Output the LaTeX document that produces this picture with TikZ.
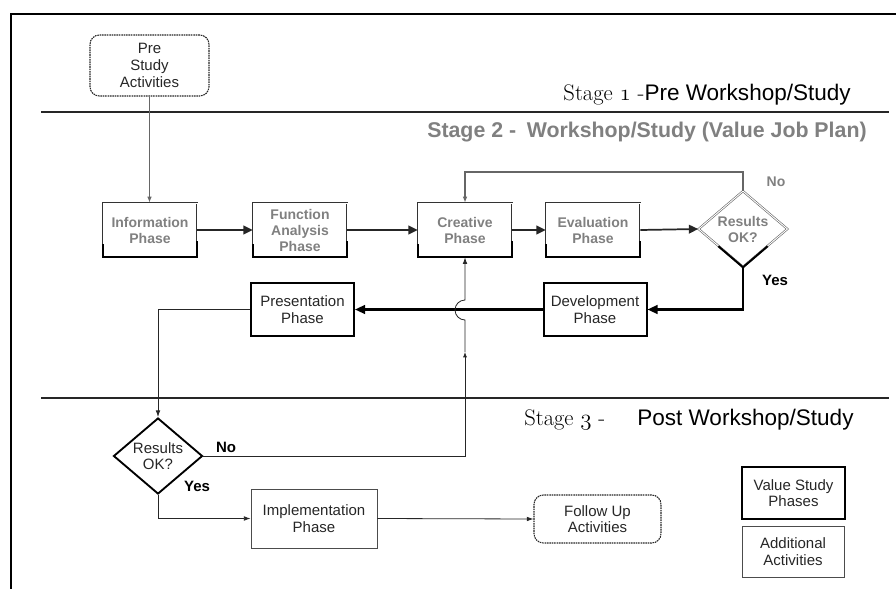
\documentclass[tikz,border=0pt]{standalone}
\usepackage{fontspec}
\setsansfont{Liberation Sans}
\usetikzlibrary{arrows.meta,shapes.geometric,calc}
\tikzset{
  base/.style={font=\sffamily\fontsize{11.25}{12.5}\selectfont, align=center, inner sep=1pt, text=black!85},
  vphase/.style={rectangle, draw=black!80, line width=0.45pt, double=white, double distance=0.7pt,
     minimum width=70.5pt, minimum height=40.5pt, align=center, inner sep=1pt, text=black!50,
     font=\sffamily\bfseries\fontsize{10.5}{12}\selectfont},
  vsbox/.style={base, rectangle, draw=black, line width=1.5pt, minimum width=77.25pt, minimum height=39.75pt},
  addbox/.style={base, rectangle, draw=black!70, line width=0.6pt},
  dotbox/.style={base, rectangle, rounded corners=7pt, draw=black!85, line width=0.8pt,
     dash pattern=on 1.2pt off 0.6pt},
  diaA/.style={diamond, aspect=1.17, minimum width=66.75pt, minimum height=57pt, inner sep=0pt,
     draw=black!60, line width=0.45pt, double=white, double distance=0.7pt, align=center, text=black!50,
     font=\sffamily\bfseries\fontsize{10.5}{12}\selectfont},
  diaB/.style={base, diamond, aspect=1.17, minimum width=66.75pt, minimum height=57pt, inner sep=0pt,
     draw=black, line width=1.4pt},
  stagelbl/.style={inner sep=0pt, font=\sffamily\fontsize{16.9}{18}\selectfont},
  stagegray/.style={inner sep=0pt, text=black!50, font=\sffamily\bfseries\fontsize{16}{18}\selectfont},
  lblb/.style={inner sep=0pt, font=\sffamily\bfseries\fontsize{11.25}{12}\selectfont},
  lblg/.style={inner sep=0pt, text=black!50, font=\sffamily\bfseries\fontsize{10.5}{12}\selectfont},
  toparrow/.style={draw=black!85, line width=1.3pt, -{Triangle[length=7pt,width=6.5pt]}},
  thickarrow/.style={draw=black, line width=1.6pt, -{Triangle[length=7.5pt,width=6.5pt]}},
  grayarrow/.style={draw=black!60, line width=0.9pt, -{Latex[length=4.5pt,width=3.5pt]}},
  thinarrow/.style={draw=black!85, line width=0.6pt, -{Latex[length=5pt,width=3.5pt]}},
}
\begin{document}
\begin{tikzpicture}[x=0.75pt,y=-0.75pt]
\useasboundingbox (0,0) rectangle (896,589);
% frame and stage separators
\draw[line width=1pt] (11,589) -- (11,14) -- (896,14);
\draw[line width=0.8pt, black!85] (41,112) -- (889,112);
\draw[line width=0.8pt, black!85] (41,398) -- (889,398);

% stage labels
\node[stagelbl, anchor=base east] (s1) at (851,100) {{\rmfamily Stage \ensuremath{\mathnormal{1}} -}Pre Workshop/Study};
\node[stagegray, anchor=base west] (s2) at (427,137) {Stage 2 -\hspace{8pt}Workshop/Study (Value Job Plan)};
\node[stagelbl, anchor=base west] (s3a) at (524,425) {\rmfamily Stage \ensuremath{\mathnormal{3}} -};
\node[stagelbl, anchor=base west] (s3b) at (637,425) {Post Workshop/Study};

% nodes
\node[dotbox, minimum width=89.25pt, minimum height=45.75pt] (pre) at (149.5,65.5) {Pre\\Study\\Activities};
\node[vphase] (inf) at (150,230) {Information\\Phase};
\node[vphase] (fa) at (300,230) {Function\\Analysis\\Phase};
\node[vphase] (cre) at (465,230) {Creative\\Phase};
\node[vphase] (ev) at (593,230) {Evaluation\\Phase};
\node[diaA] (d1) at (743,229) {Results\\OK?};
\node[vsbox] (pres) at (302.5,309.5) {Presentation\\Phase};
\node[vsbox] (dev) at (595,309.5) {Development\\Phase};
\node[diaB] (d2) at (158,456) {Results\\OK?};
\node[addbox, minimum width=94.5pt, minimum height=44.25pt] (imp) at (314,518.5) {Implementation\\Phase};
\node[dotbox, minimum width=95.25pt, minimum height=36pt] (fol) at (597.5,519) {Follow Up\\Activities};
\node[vsbox, minimum width=77.25pt, minimum height=39pt] (lg1) at (793.5,493) {Value Study\\Phases};
\node[addbox, minimum width=76.5pt, minimum height=38.25pt] (lg2) at (793,551.5) {Additional\\Activities};

% thick bottom edges of the value study phase boxes
\foreach \n in {inf,fa,cre,ev}{
  \draw[line width=1.5pt] ([yshift=10pt]\n.south west) -- (\n.south west) -- (\n.south east) -- ([yshift=12pt]\n.south east);
}
\draw[line width=1.5pt] ($(d1.west)!0.45!(d1.south)$) -- (d1.south) -- ($(d1.east)!0.45!(d1.south)$);

% labels
\node[lblg] (no1) at (776,182) {No};
\node[lblb] (yes1) at (775,280) {Yes};
\node[lblb] (no2) at (226,447) {No};
\node[lblb] (yes2) at (197,486) {Yes};

% connectors
\coordinate (lp) at (465,172);
\coordinate (midA) at (465,352);
\coordinate (hopB) at (465,320);
\draw[grayarrow] (pre.south) -- (pre.south |- inf.north);
\draw[toparrow] (inf.east) -- (fa.west);
\draw[toparrow] (fa.east) -- (cre.west);
\draw[toparrow] (cre.east) -- (ev.west);
\draw[toparrow] (ev.east) -- (d1.west);
\draw[grayarrow] (d1.north) |- (lp) -- (cre.north);
\draw[thickarrow] (d1.south) |- (dev.east);
\draw[thickarrow] (dev.west) -- (pres.east);
\draw[thinarrow] (pres.west) -| (d2.north);
\draw[thinarrow, -{Latex[length=4pt,width=3pt]}] (d2.east) -| (midA);
\draw[thinarrow] (midA) -- (hopB) arc[start angle=270, end angle=90, radius=7.5pt] -- (cre.south);
\draw[thinarrow] (d2.south) |- (imp.west);
\draw[thinarrow] (imp.east) -- (fol.west);
\end{tikzpicture}
\end{document}
